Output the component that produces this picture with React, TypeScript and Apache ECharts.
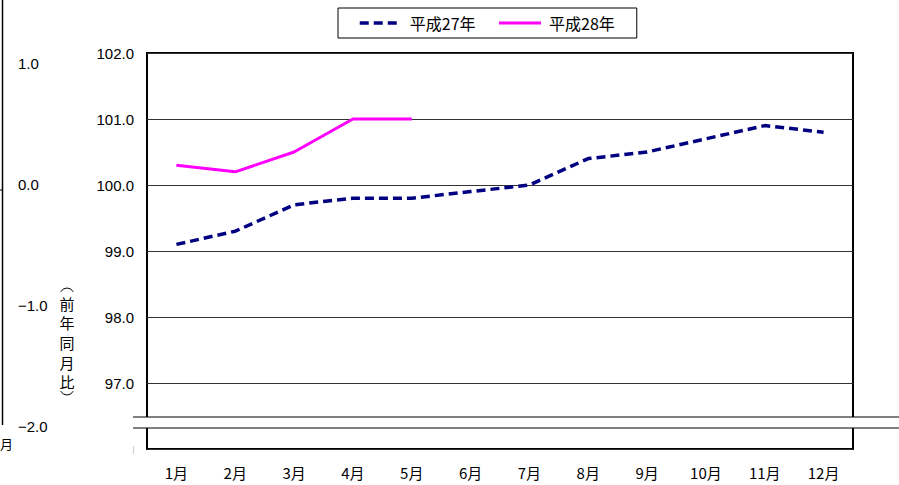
import React, { useEffect, useRef } from "react";
import * as echarts from "echarts";

const months = ["1月", "2月", "3月", "4月", "5月", "6月", "7月", "8月", "9月", "10月", "11月", "12月"];
const seriesH27 = [99.1, 99.3, 99.7, 99.8, 99.8, 99.9, 100.0, 100.4, 100.5, 100.7, 100.9, 100.8];
const seriesH28 = [100.3, 100.2, 100.5, 101.0, 101.0];
const yMin = 96;
const yMax = 102;
const yInterval = 1;
const leftRemnantLabels = ["1.0", "0.0", "\u22121.0", "\u22122.0"];
const leftRemnantTitle = ["前", "年", "同", "月", "比"];

export default function App() {
  const ref = useRef<HTMLDivElement>(null);
  useEffect(() => {
    if (!ref.current) return;
    const chart = echarts.init(ref.current, null, { renderer: "svg" });
    const gridLeft = 147;
    const gridTop = 53;
    const gridW = 706;
    const gridH = 396;
    const breakTop = 417;
    const breakBottom = 428;

    const graphic: any[] = [];
    // Remnant of neighbouring chart on the left
    graphic.push({
      type: "line",
      shape: { x1: 2.5, y1: 0, x2: 2.5, y2: 425 },
      style: { stroke: "#000", lineWidth: 1.5 },
      z: 100,
    });
    graphic.push({
      type: "line",
      shape: { x1: 0, y1: 190, x2: 3, y2: 190 },
      style: { stroke: "#000", lineWidth: 1 },
      z: 100,
    });
    leftRemnantLabels.forEach((t, i) => {
      graphic.push({
        type: "text",
        x: 18,
        y: 63 + i * 121.3,
        style: {
          text: t,
          fill: "#000",
          font: "15px 'Liberation Sans', Arial, sans-serif",
          textAlign: "left",
          textVerticalAlign: "middle",
        },
        z: 100,
      });
    });
    // vertical title (前年同月比) with vertical parentheses drawn as arcs
    graphic.push({
      type: "arc",
      shape: { cx: 67, cy: 295, r: 7, startAngle: Math.PI * 1.15, endAngle: Math.PI * 1.85 },
      style: { stroke: "#000", lineWidth: 1, fill: "none" },
      z: 100,
    });
    leftRemnantTitle.forEach((c, i) => {
      graphic.push({
        type: "text",
        x: 67,
        y: 303 + i * 19.7,
        style: {
          text: c,
          fill: "#000",
          font: "15px 'Noto Sans CJK JP', sans-serif",
          textAlign: "center",
          textVerticalAlign: "middle",
        },
        z: 100,
      });
    });
    graphic.push({
      type: "arc",
      shape: { cx: 67, cy: 388, r: 7, startAngle: Math.PI * 0.15, endAngle: Math.PI * 0.85 },
      style: { stroke: "#000", lineWidth: 1, fill: "none" },
      z: 100,
    });
    graphic.push({
      type: "text",
      x: 0,
      y: 443,
      style: {
        text: "月",
        fill: "#000",
        font: "13px 'Noto Sans CJK JP', sans-serif",
        textAlign: "left",
        textVerticalAlign: "middle",
      },
      z: 100,
    });
    graphic.push({
      type: "line",
      shape: { x1: 133.5, y1: 446, x2: 133.5, y2: 454 },
      style: { stroke: "#ccc", lineWidth: 1 },
      z: 100,
    });
    // Axis break
    graphic.push({
      type: "rect",
      shape: { x: 133, y: breakTop, width: 899 - 133, height: breakBottom - breakTop },
      style: { fill: "#fff" },
      z: 100,
    });
    graphic.push({
      type: "line",
      shape: { x1: 133, y1: breakTop, x2: 899, y2: breakTop },
      style: { stroke: "#000", lineWidth: 1 },
      z: 101,
    });
    graphic.push({
      type: "line",
      shape: { x1: 133, y1: breakBottom, x2: 899, y2: breakBottom },
      style: { stroke: "#000", lineWidth: 1 },
      z: 101,
    });

    chart.setOption({
      animation: false,
      backgroundColor: "#fff",
      legend: {
        left: 338,
        top: 8,
        padding: [7, 22, 7, 20],
        itemWidth: 42,
        itemHeight: 14,
        itemGap: 22,
        borderColor: "#000",
        borderWidth: 1,
        itemStyle: { opacity: 0 },
        lineStyle: { width: "inherit" },
        textStyle: {
          fontSize: 16,
          color: "#000",
          fontFamily: "'Noto Sans CJK JP', sans-serif",
          padding: [0, 0, 0, 3],
        },
        data: ["平成27年", "平成28年"],
      },
      grid: {
        left: gridLeft,
        top: gridTop,
        width: gridW,
        height: gridH,
        show: true,
        borderColor: "#000",
        borderWidth: 2,
        backgroundColor: "transparent",
      },
      xAxis: {
        type: "category",
        data: months,
        boundaryGap: true,
        axisLine: { show: false },
        axisTick: { show: false },
        splitLine: { show: false },
        axisLabel: {
          margin: 16,
          color: "#000",
          fontSize: 15,
          fontFamily: "'Noto Sans CJK JP', sans-serif",
        },
      },
      yAxis: {
        type: "value",
        min: yMin,
        max: yMax,
        interval: yInterval,
        axisLine: { show: false },
        axisTick: { show: false },
        splitLine: { show: true, lineStyle: { color: "#333", width: 1 } },
        axisLabel: {
          margin: 13,
          color: "#000",
          fontSize: 15,
          fontFamily: "'Liberation Sans', Arial, sans-serif",
          formatter: (v: number) => (v === yMin ? "" : v.toFixed(1)),
        },
      },
      graphic,
      series: [
        {
          name: "平成27年",
          type: "line",
          data: seriesH27,
          symbol: "none",
          lineStyle: { color: "#000080", width: 3.5, type: [9, 5] },
          itemStyle: { color: "#000080" },
          z: 3,
        },
        {
          name: "平成28年",
          type: "line",
          data: seriesH28,
          symbol: "none",
          lineStyle: { color: "#FF00FF", width: 3 },
          itemStyle: { color: "#FF00FF" },
          z: 4,
        },
      ],
    });
    return () => chart.dispose();
  }, []);
  return (
    <div
      ref={ref}
      style={{ position: "absolute", left: 0, top: 0, width: 899, height: 485 }}
    />
  );
}
